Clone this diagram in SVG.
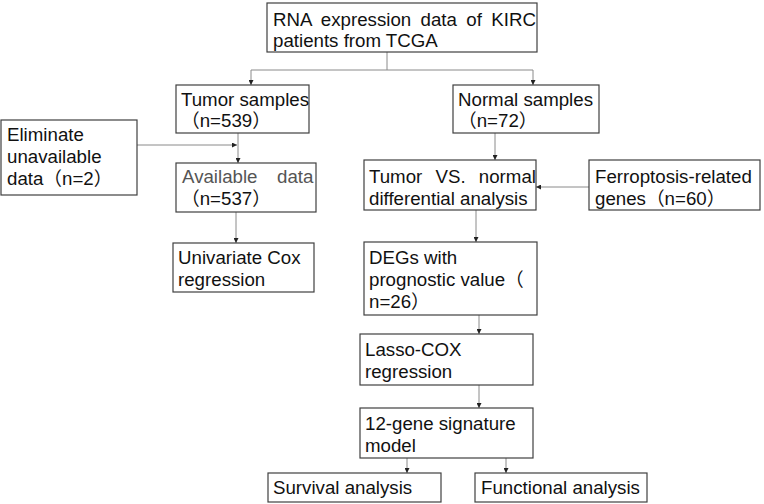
<svg xmlns="http://www.w3.org/2000/svg" width="764" height="504" viewBox="0 0 764 504">
<defs>
<style>
.box{fill:#ffffff;stroke:#404040;stroke-width:1.2}
.t{font-family:"Liberation Sans","Noto Sans CJK SC",Arial,sans-serif;font-size:18.7px;fill:#111111}
.g{fill:#555555}
.c{fill:none;stroke:#8a8a8a;stroke-width:1}
</style>
<marker id="ah" viewBox="0 0 6 6" refX="6" refY="3" markerWidth="5" markerHeight="5" markerUnits="userSpaceOnUse" orient="auto">
<path d="M0,0 L6,3 L0,6 z" fill="#222222"/>
</marker>
</defs>
<rect width="764" height="504" fill="#ffffff"/>
<g id="connectors">
<path class="c" d="M387,52 V70 M251,70 H533"/>
<path class="c" d="M251,70 V85" marker-end="url(#ah)"/>
<path class="c" d="M533,70 V85" marker-end="url(#ah)"/>
<path class="c" d="M137,145 H237" marker-end="url(#ah)"/>
<path class="c" d="M238,133 V163" marker-end="url(#ah)"/>
<path class="c" d="M236,212 V243" marker-end="url(#ah)"/>
<path class="c" d="M495,133 V160" marker-end="url(#ah)"/>
<path class="c" d="M589,187 H536" marker-end="url(#ah)"/>
<path class="c" d="M476,210 V242" marker-end="url(#ah)"/>
<path class="c" d="M479,315 V334" marker-end="url(#ah)"/>
<path class="c" d="M479,385 V408" marker-end="url(#ah)"/>
<path class="c" d="M407,458 V473" marker-end="url(#ah)"/>
<path class="c" d="M506,458 V473" marker-end="url(#ah)"/>
</g>
<g id="rna">
<rect class="box" x="267" y="3" width="270" height="49"/>
<text class="t" x="273" y="26" word-spacing="4.2">RNA expression data of KIRC</text>
<text class="t" x="273" y="47">patients from TCGA</text>
</g>
<g id="tumor">
<rect class="box" x="176" y="85" width="133" height="48"/>
<text class="t" x="181" y="106">Tumor samples</text>
<text class="t" x="181" y="127">（n=539）</text>
</g>
<g id="normal">
<rect class="box" x="453" y="85" width="146" height="48"/>
<text class="t" x="458" y="106">Normal samples</text>
<text class="t" x="458" y="127">（n=72）</text>
</g>
<g id="eliminate">
<rect class="box" x="1" y="120" width="136" height="75"/>
<text class="t" x="7" y="141">Eliminate</text>
<text class="t" x="7" y="163">unavailable</text>
<text class="t" x="7" y="185">data（n=2）</text>
</g>
<g id="available">
<rect class="box" x="176" y="163" width="140" height="49"/>
<text class="t g" y="183"><tspan x="182">Available</tspan><tspan x="277">data</tspan></text>
<text class="t" x="181" y="205">（n=537）</text>
</g>
<g id="univariate">
<rect class="box" x="173" y="243" width="141" height="49"/>
<text class="t" x="178" y="264">Univariate Cox</text>
<text class="t" x="178" y="286">regression</text>
</g>
<g id="tumorvs">
<rect class="box" x="364" y="160" width="172" height="50"/>
<text class="t" x="369" y="183" word-spacing="8">Tumor VS. normal</text>
<text class="t" x="369" y="205">differential analysis</text>
</g>
<g id="ferroptosis">
<rect class="box" x="589" y="160" width="171" height="50"/>
<text class="t" x="595" y="183">Ferroptosis-related</text>
<text class="t" x="595" y="205">genes（n=60）</text>
</g>
<g id="degs">
<rect class="box" x="364" y="242" width="173" height="73"/>
<text class="t" x="369" y="264">DEGs with</text>
<text class="t" x="369" y="286">prognostic value（</text>
<text class="t" x="369" y="308">n=26）</text>
</g>
<g id="lasso">
<rect class="box" x="360" y="334" width="173" height="51"/>
<text class="t" x="365" y="356">Lasso-COX</text>
<text class="t" x="365" y="378">regression</text>
</g>
<g id="gene12">
<rect class="box" x="360" y="408" width="173" height="50"/>
<text class="t" x="365" y="430">12-gene signature</text>
<text class="t" x="365" y="452">model</text>
</g>
<g id="survival">
<rect class="box" x="268" y="473" width="173" height="29"/>
<text class="t" x="273" y="494">Survival analysis</text>
</g>
<g id="functional">
<rect class="box" x="475" y="473" width="172" height="29"/>
<text class="t" x="481" y="494">Functional analysis</text>
</g>
</svg>
